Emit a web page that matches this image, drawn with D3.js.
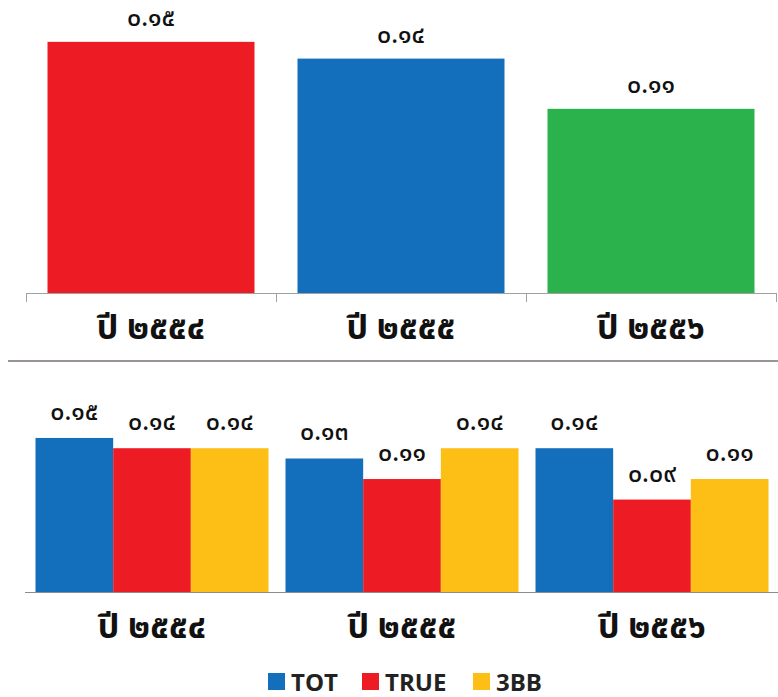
<!DOCTYPE html>
<html><head><meta charset="utf-8">
<script src="https://cdn.jsdelivr.net/npm/d3@7"></script>
<style>
html,body{margin:0;padding:0;background:#fff;}
svg{display:block;}
</style></head>
<body>
<script>
// ---- data ----
const categories = ["ปี ๒๕๕๔", "ปี ๒๕๕๕", "ปี ๒๕๕๖"];
const topValues = [0.15, 0.14, 0.11];
const series = ["TOT", "TRUE", "3BB"];
const totValues = [0.15, 0.13, 0.14];
const trueValues = [0.14, 0.11, 0.09];
const bbValues = [0.14, 0.14, 0.11];

// ---- styles ----
const topColors = ["#ED1C24", "#136EBC", "#2BB24C"];
const seriesColors = ["#136EBC", "#ED1C24", "#FDBE16"];
const thaiFont = "'Noto Sans Thai','Noto Sans','Loma','Garuda',sans-serif";

const thaiDigits = "๐๑๒๓๔๕๖๗๘๙";
const toThai = s => s.replace(/[0-9]/g, d => thaiDigits[+d]);
const fmt = v => toThai(d3.format(".2f")(v));

const W = 778, H = 697;
const svg = d3.select("body").append("svg").attr("width", W).attr("height", H);

// ---------- TOP PANEL ----------
const xTop = d3.scaleBand().domain(categories).range([26, 776]).paddingInner(0.172).paddingOuter(0.086);
const yTop = d3.scaleLinear().domain([0, 0.175]).range([293, 0]);
const topData = categories.map((c, i) => ({c, v: topValues[i], color: topColors[i]}));

const gTop = svg.append("g");
gTop.selectAll("rect").data(topData).join("rect")
  .attr("x", d => xTop(d.c)).attr("y", d => yTop(d.v))
  .attr("width", xTop.bandwidth()).attr("height", d => yTop(0) - yTop(d.v))
  .attr("fill", d => d.color);

// axis line with boundary ticks
const step = xTop.step();
const boundaries = d3.range(categories.length + 1).map(i => xTop.range()[0] + i * step);
gTop.append("line").attr("x1", boundaries[0]).attr("x2", boundaries[boundaries.length - 1])
  .attr("y1", yTop(0) + 0.5).attr("y2", yTop(0) + 0.5).attr("stroke", "#a0a0a0").attr("stroke-width", 1);
gTop.selectAll("line.tick").data(boundaries).join("line").attr("class", "tick")
  .attr("x1", d => d + 0.5).attr("x2", d => d + 0.5)
  .attr("y1", yTop(0)).attr("y2", yTop(0) + 9).attr("stroke", "#a0a0a0");

gTop.selectAll("text.val").data(topData).join("text").attr("class", "val")
  .attr("x", d => xTop(d.c) + xTop.bandwidth() / 2).attr("y", d => yTop(d.v) - 16)
  .attr("text-anchor", "middle").attr("font-family", thaiFont).attr("font-size", 25)
  .attr("font-weight", 500).attr("fill", "#111").text(d => fmt(d.v));

gTop.selectAll("text.cat").data(categories).join("text").attr("class", "cat")
  .attr("x", d => xTop(d) + xTop.bandwidth() / 2).attr("y", 339)
  .attr("text-anchor", "middle").attr("font-family", thaiFont).attr("font-size", 34)
  .attr("font-weight", "bold").attr("fill", "#111").text(d => d);

// separator
svg.append("line").attr("x1", 8).attr("x2", 778).attr("y1", 361).attr("y2", 361)
  .attr("stroke", "#9b9494").attr("stroke-width", 2);

// ---------- BOTTOM PANEL ----------
const x0 = d3.scaleBand().domain(categories).range([27, 777]).paddingInner(0.068).paddingOuter(0.034);
const x1 = d3.scaleBand().domain(series).range([0, x0.bandwidth()]).padding(0);
const yBot = d3.scaleLinear().domain([0, 0.2]).range([592, 386.6]);
const valuesBySeries = [totValues, trueValues, bbValues];
const botData = categories.map((c, i) => ({c, items: series.map((s, j) => ({s, v: valuesBySeries[j][i], color: seriesColors[j]}))}));

const gBot = svg.append("g");
const groups = gBot.selectAll("g.grp").data(botData).join("g").attr("class", "grp")
  .attr("transform", d => `translate(${x0(d.c)},0)`);
groups.selectAll("rect").data(d => d.items).join("rect")
  .attr("x", d => x1(d.s)).attr("y", d => yBot(d.v))
  .attr("width", x1.bandwidth()).attr("height", d => yBot(0) - yBot(d.v))
  .attr("fill", d => d.color);
groups.selectAll("text").data(d => d.items).join("text")
  .attr("x", d => x1(d.s) + x1.bandwidth() / 2).attr("y", d => yBot(d.v) - 18)
  .attr("text-anchor", "middle").attr("font-family", thaiFont).attr("font-size", 25)
  .attr("font-weight", 500).attr("fill", "#111").text(d => fmt(d.v));

gBot.append("line").attr("x1", 25).attr("x2", 778).attr("y1", yBot(0) + 0.5).attr("y2", yBot(0) + 0.5)
  .attr("stroke", "#8c8c8c").attr("stroke-width", 1);

gBot.selectAll("text.cat").data(categories).join("text").attr("class", "cat")
  .attr("x", d => x0(d) + x0.bandwidth() / 2).attr("y", 638)
  .attr("text-anchor", "middle").attr("font-family", thaiFont).attr("font-size", 34)
  .attr("font-weight", "bold").attr("fill", "#111").text(d => d);

// legend
const legendX = [268, 362, 473];
const leg = svg.append("g");
const li = leg.selectAll("g").data(series).join("g")
  .attr("transform", (d, i) => `translate(${legendX[i]},673)`);
li.append("rect").attr("width", 17).attr("height", 17).attr("fill", (d, i) => seriesColors[i]);
li.append("text").attr("x", 23).attr("y", 18).attr("font-family", "'Open Sans',sans-serif")
  .attr("font-weight", "bold").attr("font-size", 24).attr("fill", "#222").text(d => d);
</script>
</body></html>
